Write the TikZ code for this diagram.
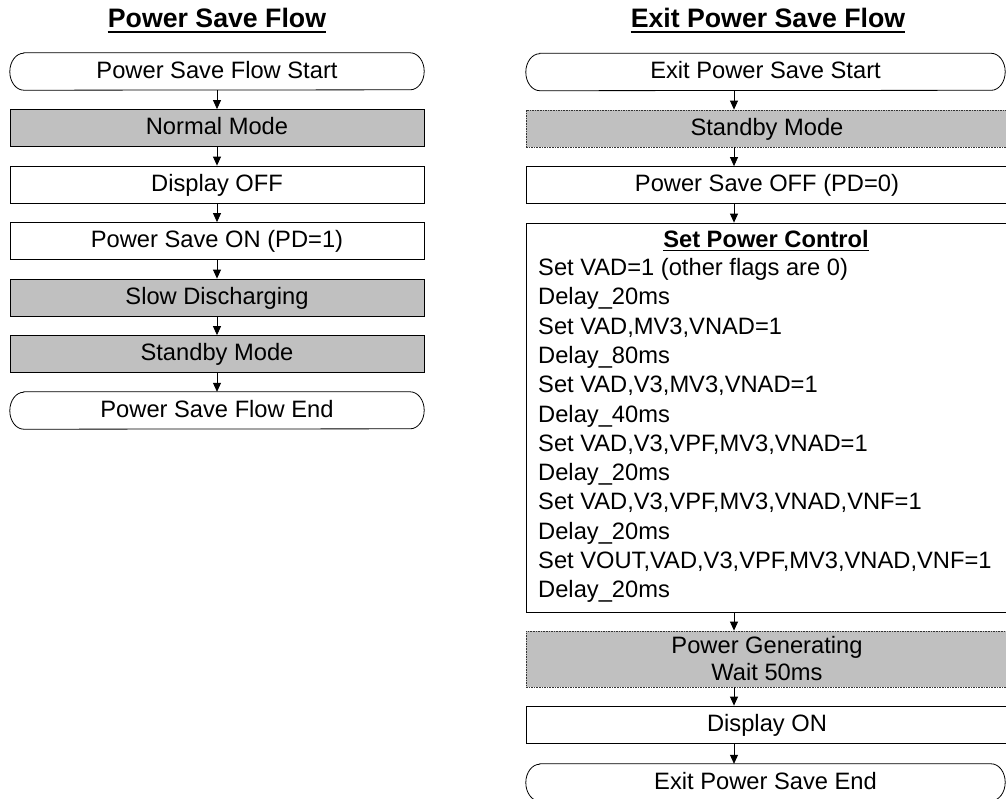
\documentclass[tikz,border=0pt]{standalone}
\usepackage{fontspec}
\setmainfont{Liberation Sans}
\usetikzlibrary{arrows.meta}
\definecolor{boxgray}{HTML}{C0C0C0}
\newcommand\fsbody{\fontsize{23.7}{27}\selectfont}
\newcommand\fstitle{\fontsize{26.7}{30}\selectfont\bfseries}
\newcommand\termshape[1]{\draw[line width=0.8pt] ([xshift=14pt]#1.north west) -- ([xshift=-14pt]#1.north east) arc[start angle=90,end angle=-90,x radius=14pt,y radius=18.5pt] -- ([xshift=14pt]#1.south west) arc[start angle=270,end angle=90,x radius=14pt,y radius=18.5pt] -- cycle;}
\begin{document}
\begin{tikzpicture}[x=1pt,y=-1pt,
  box/.style={draw, line width=0.8pt, minimum height=37pt, inner sep=0pt, font=\fsbody, text height=17pt, text depth=4pt},
  lbox/.style={box, minimum width=414pt},
  rbox/.style={box, minimum width=482pt},
  grayfill/.style={fill=boxgray},
  dashbox/.style={draw=black!80, dash pattern=on 1.6pt off 1pt},
  lterm/.style={minimum width=414pt, minimum height=37pt, inner sep=0pt, font=\fsbody, text height=17pt, text depth=4pt},
  rterm/.style={minimum width=479pt, minimum height=37pt, inner sep=0pt, font=\fsbody, text height=17pt, text depth=4pt},
  arr/.style={line width=0.8pt, -{Triangle[length=9pt,width=8pt]}},
  ttl/.style={font=\fstitle, anchor=base, inner sep=0pt},
  pline/.style={font=\fsbody, anchor=base west, inner sep=0pt}]
\useasboundingbox (0,0) rectangle (1006,798);
% titles
\node[ttl] (t1) at (217,27) {Power Save Flow};
\draw[line width=2pt] ([yshift=-4.5pt]t1.base west) -- ([yshift=-4.5pt]t1.base east);
\node[ttl] (t2) at (768,27) {Exit Power Save Flow};
\draw[line width=2pt] ([yshift=-4.5pt]t2.base west) -- ([yshift=-4.5pt]t2.base east);
% left flow
\node[lterm] (l1) at (217,71.5) {Power Save Flow Start};
\termshape{l1}
\node[lbox,grayfill] (l2) at (217,128) {Normal Mode};
\node[lbox] (l3) at (217,184.5) {Display OFF};
\node[lbox] (l4) at (217,241) {Power Save ON (PD=1)};
\node[lbox,grayfill] (l5) at (217,297.5) {Slow Discharging};
\node[lbox,grayfill] (l6) at (217,354) {Standby Mode};
\node[lterm] (l7) at (217,410.5) {Power Save Flow End};
\termshape{l7}
\foreach \a/\b in {l1/l2,l2/l3,l3/l4,l4/l5,l5/l6,l6/l7}
  \draw[arr] (\a.south) -- (\b.north);
% right flow
\coordinate (ax) at (734,0);
\node[rterm] (r1) at (765.5,72) {Exit Power Save Start};
\termshape{r1}
\node[rbox,grayfill,dashbox] (r2) at (767,128.5) {Standby Mode};
\node[rbox] (r3) at (767,185) {Power Save OFF (PD=0)};
\node[rbox, minimum height=389pt] (r4) at (767,417.5) {};
\node[font=\fsbody\bfseries, anchor=base, inner sep=0pt] (spt) at (766,247.5) {Set Power Control};
\draw[line width=1.4pt] ([yshift=-3pt]spt.base west) -- ([yshift=-3pt]spt.base east);
\foreach \t [count=\i] in {{Set VAD=1 (other flags are 0)},{Delay\_20ms},{Set VAD,MV3,VNAD=1},{Delay\_80ms},{Set VAD,V3,MV3,VNAD=1},{Delay\_40ms},{Set VAD,V3,VPF,MV3,VNAD=1},{Delay\_20ms},{Set VAD,V3,VPF,MV3,VNAD,VNF=1},{Delay\_20ms},{Set VOUT,VAD,V3,VPF,MV3,VNAD,VNF=1},{Delay\_20ms}}
  \node[pline] (p\i) at (538,{275.5+29.3*(\i-1)}) {\t};
\node[rbox,grayfill,dashbox, minimum height=56pt, align=center, text height=, text depth=] (r5) at (767,659) {Power Generating\\Wait 50ms};
\node[rbox] (r6) at (767,724.5) {Display ON};
\node[rterm] (r7) at (765.5,782.5) {Exit Power Save End};
\termshape{r7}
\foreach \a/\b in {r1/r2,r2/r3,r3/r4,r4/r5,r5/r6,r6/r7}
  \draw[arr] (\a.south -| ax) -- (\b.north -| ax);
\end{tikzpicture}
\end{document}
